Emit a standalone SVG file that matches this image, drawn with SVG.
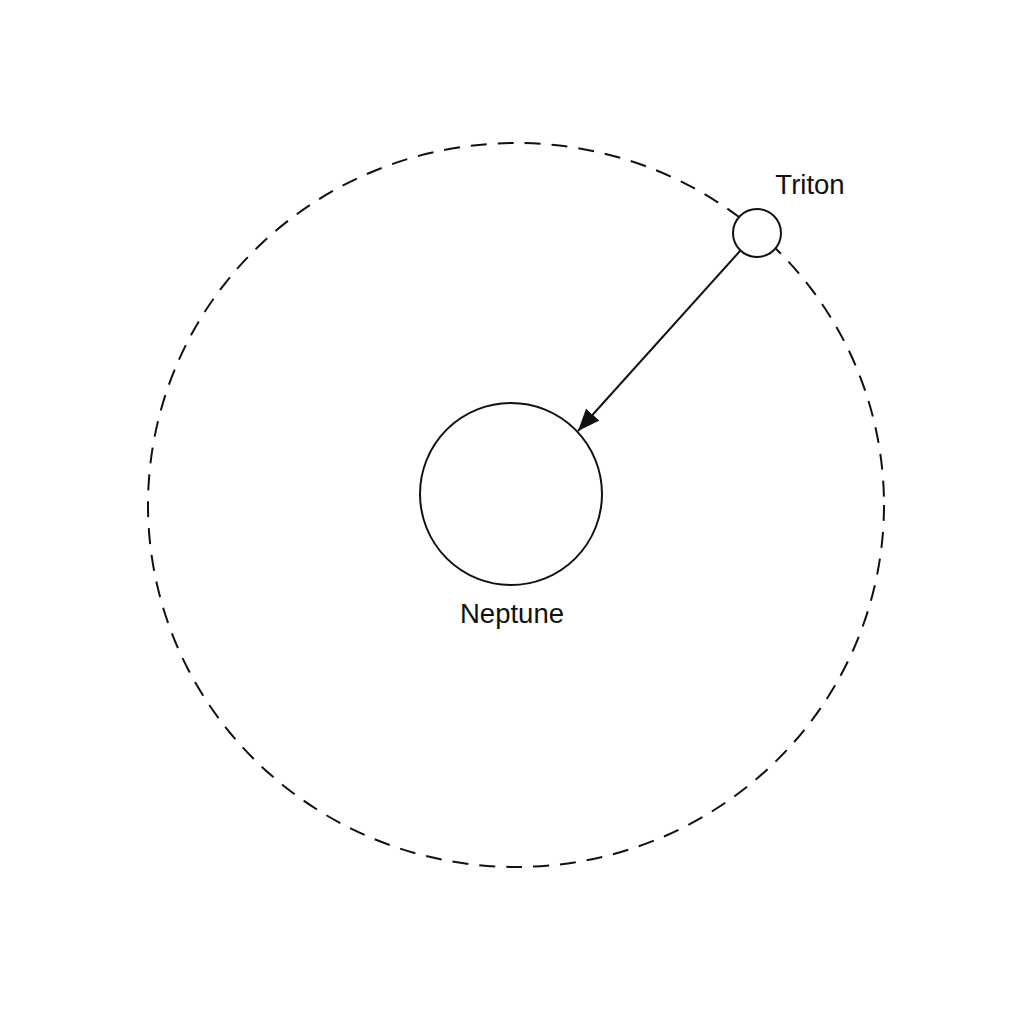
<svg xmlns="http://www.w3.org/2000/svg" width="1024" height="1024" viewBox="0 0 1024 1024">
<style>
.lbl{font-family:"Liberation Sans",Arial,sans-serif;font-size:27.5px;fill:#111}
.body{fill:#fff;stroke:#111;stroke-width:2}
</style>
<defs>
<marker id="ah2" viewBox="0 0 22 18" refX="22" refY="9" markerWidth="22" markerHeight="18" markerUnits="userSpaceOnUse" orient="auto">
<path d="M0,0 L22,9 L0,18 z" fill="#111"/>
</marker>
</defs>
<rect width="1024" height="1024" fill="#fff"/>
<g id="orbit">
<ellipse cx="516" cy="505" rx="368" ry="362" fill="none" stroke="#111" stroke-width="2" stroke-dasharray="16 11"/>
</g>
<g id="connectors">
<line x1="740" y1="251" x2="578" y2="431" stroke="#111" stroke-width="2" marker-end="url(#ah2)"/>
</g>
<g id="neptune">
<circle class="body" cx="511" cy="494" r="91"/>
<text class="lbl" x="512" y="623" text-anchor="middle">Neptune</text>
</g>
<g id="triton">
<circle class="body" cx="757" cy="233" r="24"/>
<text class="lbl" x="810" y="194" text-anchor="middle">Triton</text>
</g>
</svg>
